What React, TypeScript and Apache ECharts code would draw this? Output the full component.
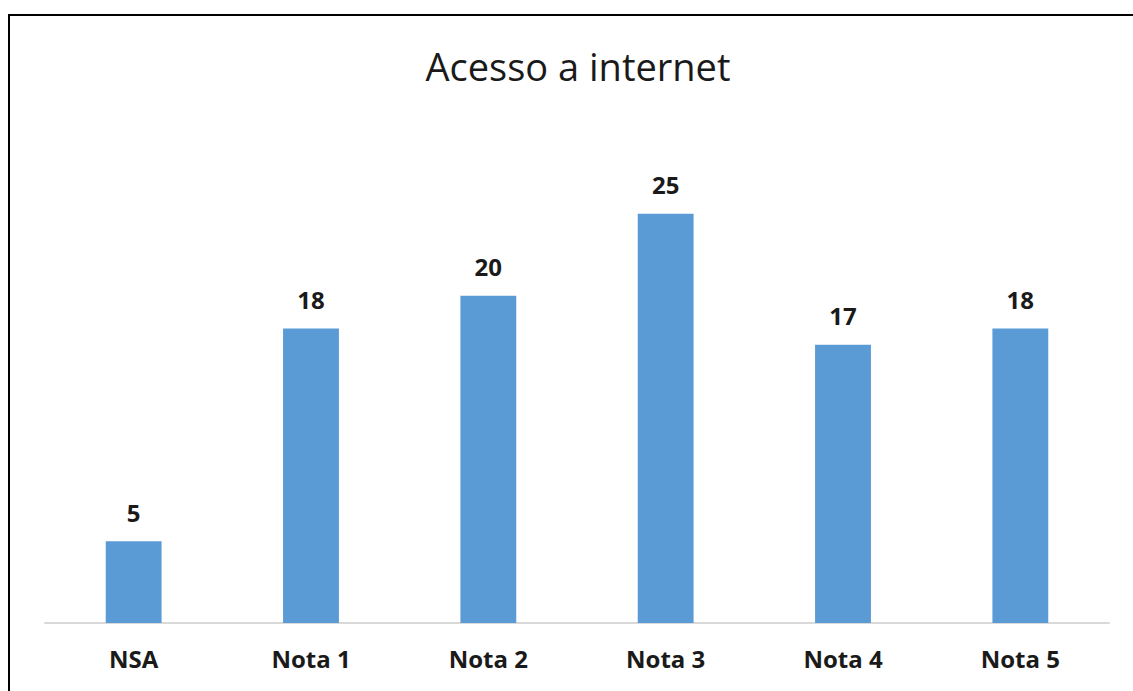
import React, { useEffect, useRef } from "react";
import * as echarts from "echarts";

const categories = ["NSA", "Nota 1", "Nota 2", "Nota 3", "Nota 4", "Nota 5"];
const values = [5, 18, 20, 25, 17, 18];
const titleText = "Acesso a internet";

export default function App() {
  const ref = useRef<HTMLDivElement>(null);
  useEffect(() => {
    if (!ref.current) return;
    const chart = echarts.init(ref.current, undefined, { renderer: "svg" });
    chart.setOption({
      animation: false,
      backgroundColor: "#ffffff",
      graphic: [
        {
          type: "rect",
          shape: { x: 9, y: 15, width: 1300, height: 900 },
          style: { fill: "none", stroke: "#000000", lineWidth: 2 },
          z: 10,
        },
      ],
      title: {
        text: titleText,
        left: 573,
        top: 42,
        textAlign: "center",
        textStyle: {
          fontFamily: "'Open Sans', 'Noto Sans', sans-serif",
          fontSize: 38,
          fontWeight: "normal",
          color: "#1a1a1a",
        },
      },
      grid: { left: 45, right: 24, top: 132, bottom: 68 },
      xAxis: {
        type: "category",
        data: categories,
        axisLine: { lineStyle: { color: "#d9d9d9", width: 2 } },
        axisTick: { show: false },
        axisLabel: {
          margin: 23,
          fontFamily: "'Open Sans', 'Noto Sans', sans-serif",
          fontSize: 24,
          fontWeight: "bold",
          color: "#1a1a1a",
        },
      },
      yAxis: {
        type: "value",
        min: 0,
        max: 30,
        show: false,
        splitLine: { show: false },
      },
      series: [
        {
          type: "bar",
          data: values,
          barWidth: "31.5%",
          itemStyle: { color: "#5b9bd5" },
          label: {
            show: true,
            position: "top",
            distance: 17,
            fontFamily: "'Open Sans', 'Noto Sans', sans-serif",
            fontSize: 24,
            fontWeight: "bold",
            color: "#1a1a1a",
          },
        },
      ],
    });
    return () => chart.dispose();
  }, []);
  return (
    <div
      ref={ref}
      style={{ position: "absolute", left: 0, top: 0, width: 1133, height: 691 }}
    />
  );
}
